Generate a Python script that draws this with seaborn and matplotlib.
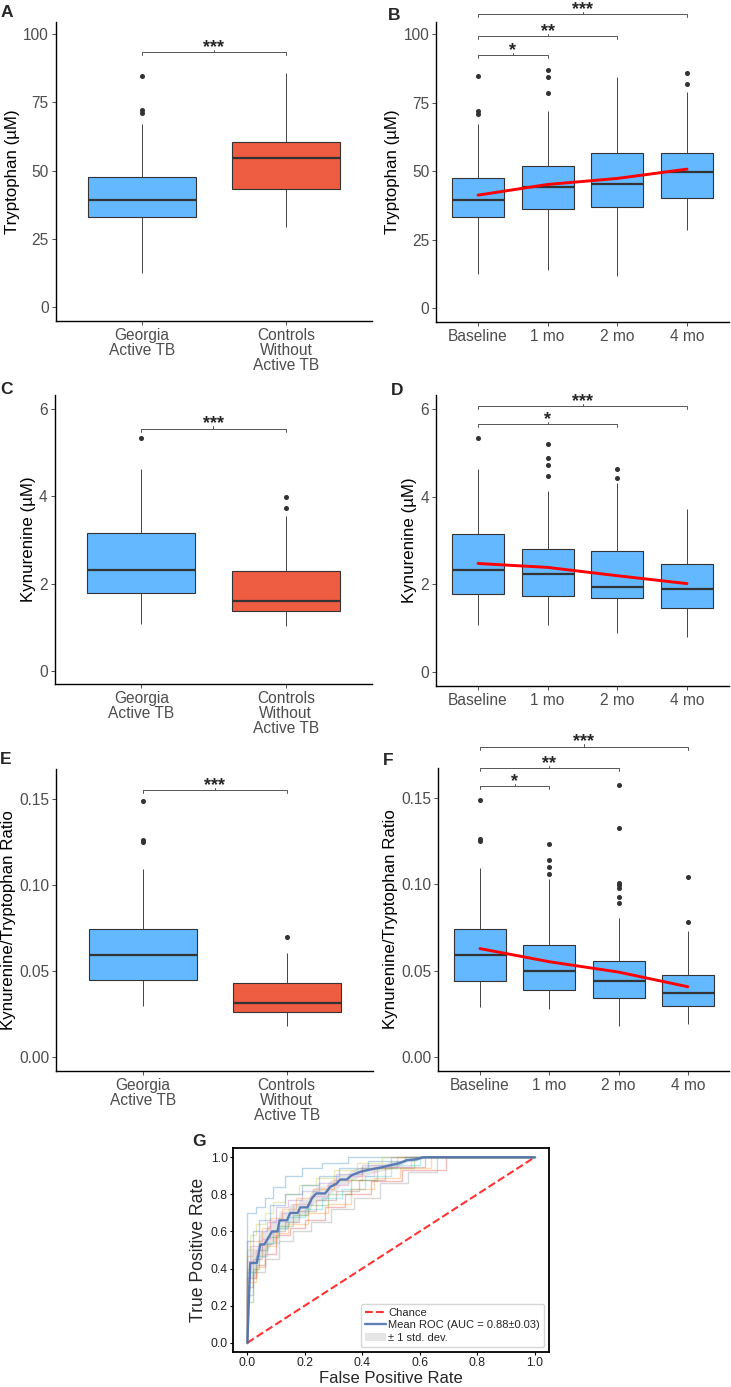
import numpy as np
import pandas as pd
import matplotlib
matplotlib.use("Agg")
import matplotlib.pyplot as plt
import seaborn as sns

W, H = 731, 1387
BLUE = "#63B8FF"
RED = "#EE5C42"
EDGE = "#333333"

# ---- TB patients vs controls (panels A, C, E)
groups = ["Georgia\nActive TB", "Controls\nWithout\nActive TB"]
# per box: whisker low, q1, median, q3, whisker high
trp_group_stats = [[12.6, 33.1, 39.2, 47.5, 67.0], [29.2, 43.3, 54.5, 60.6, 85.8]]
trp_group_out = [[71.0, 72.0, 84.7], []]
kyn_group_stats = [[1.07, 1.78, 2.32, 3.15, 4.62], [1.04, 1.38, 1.59, 2.29, 3.55]]
kyn_group_out = [[5.34], [3.74, 3.99]]
ratio_group_stats = [[0.0298, 0.0446, 0.0595, 0.0744, 0.1093],
                     [0.0182, 0.0260, 0.0316, 0.0428, 0.0607]]
ratio_group_out = [[0.1252, 0.1262, 0.1488], [0.0695]]

# ---- treatment time course (panels B, D, F)
timepoints = ["Baseline", "1 mo", "2 mo", "4 mo"]
trp_time_stats = [[12.5, 33.1, 39.3, 47.6, 67.0], [13.9, 36.1, 44.0, 51.7, 72.0],
                  [11.7, 36.8, 45.3, 56.5, 84.2], [28.5, 40.0, 49.7, 56.5, 79.0]]
trp_time_out = [[71.0, 72.0, 84.7], [78.6, 84.4, 86.9], [], [81.6, 85.7]]
trp_time_mean = [41.2, 45.1, 47.3, 50.7]
kyn_time_stats = [[1.06, 1.77, 2.32, 3.14, 4.62], [1.06, 1.72, 2.22, 2.79, 4.12],
                  [0.87, 1.68, 1.93, 2.75, 4.30], [0.78, 1.46, 1.88, 2.45, 3.72]]
kyn_time_out = [[5.34], [4.46, 4.73, 4.87, 5.21], [4.42, 4.64], []]
kyn_time_mean = [2.47, 2.38, 2.19, 2.01]
ratio_time_stats = [[0.0292, 0.0440, 0.0593, 0.0742, 0.1093],
                    [0.0279, 0.0386, 0.0496, 0.0651, 0.1030],
                    [0.0180, 0.0339, 0.0438, 0.0556, 0.0806],
                    [0.0192, 0.0297, 0.0370, 0.0473, 0.0729]]
ratio_time_out = [[0.1252, 0.1262, 0.1488], [0.1058, 0.1103, 0.1144, 0.1231],
                  [0.0894, 0.0926, 0.0977, 0.0996, 0.1010, 0.1324, 0.1577],
                  [0.0781, 0.1042]]
ratio_time_mean = [0.0628, 0.0552, 0.0492, 0.0407]

# ---- ROC (panel G)
mean_fpr = [0.0, 0.010, 0.033, 0.045, 0.059, 0.086, 0.105, 0.112, 0.138, 0.149,
            0.175, 0.184, 0.209, 0.225, 0.240, 0.271, 0.288, 0.311, 0.323, 0.346,
            0.363, 0.392, 0.427, 0.462, 0.497, 0.531, 0.555, 0.589, 0.612, 1.0]
mean_tpr = [0.0, 0.43, 0.43, 0.53, 0.53, 0.60, 0.60, 0.66, 0.66, 0.70,
            0.70, 0.73, 0.73, 0.78, 0.805, 0.805, 0.84, 0.858, 0.88, 0.88,
            0.903, 0.921, 0.934, 0.944, 0.957, 0.969, 0.984, 0.989, 1.0, 1.0]
tpr_std = [0.0, 0.08, 0.08, 0.07, 0.07, 0.06, 0.06, 0.05, 0.05, 0.05,
           0.05, 0.045, 0.045, 0.04, 0.04, 0.04, 0.035, 0.035, 0.03, 0.03,
           0.03, 0.025, 0.025, 0.02, 0.02, 0.015, 0.01, 0.01, 0.0, 0.0]
fold_fpr = [
    [0, 0, 0.03, 0.06, 0.09, 0.13, 0.19, 0.26, 0.35, 1.0],
    [0, 0, 0.02, 0.05, 0.08, 0.12, 0.17, 0.23, 0.30, 0.40, 0.52, 1.0],
    [0, 0, 0.02, 0.04, 0.07, 0.11, 0.16, 0.21, 0.28, 0.36, 0.45, 0.58, 1.0],
    [0, 0, 0.03, 0.06, 0.10, 0.15, 0.20, 0.27, 0.34, 0.43, 0.54, 0.69, 1.0],
    [0, 0, 0.01, 0.04, 0.07, 0.10, 0.14, 0.19, 0.25, 0.31, 0.40, 0.50, 1.0],
    [0, 0, 0.02, 0.05, 0.09, 0.13, 0.18, 0.24, 0.31, 0.39, 0.48, 0.62, 1.0],
    [0, 0, 0.03, 0.05, 0.08, 0.12, 0.16, 0.22, 0.28, 0.35, 0.44, 0.57, 1.0],
    [0, 0, 0.02, 0.06, 0.11, 0.16, 0.22, 0.29, 0.37, 0.46, 0.56, 0.66, 1.0],
    [0, 0, 0.01, 0.03, 0.06, 0.09, 0.13, 0.18, 0.24, 0.30, 0.38, 0.47, 1.0],
    [0, 0, 0.03, 0.07, 0.11, 0.14, 0.20, 0.26, 0.33, 0.41, 0.50, 0.60, 1.0],
    [0, 0, 0.02, 0.04, 0.08, 0.13, 0.19, 0.25, 0.32, 0.42, 0.55, 1.0],
    [0, 0, 0.03, 0.06, 0.10, 0.14, 0.21, 0.28, 0.36, 0.44, 0.53, 0.64, 1.0],
]
fold_tpr = [
    [0, 0.70, 0.73, 0.78, 0.84, 0.90, 0.94, 0.97, 1.0, 1.0],
    [0, 0.47, 0.55, 0.62, 0.67, 0.72, 0.78, 0.83, 0.88, 0.94, 1.0, 1.0],
    [0, 0.22, 0.40, 0.50, 0.57, 0.63, 0.69, 0.74, 0.80, 0.88, 0.94, 1.0, 1.0],
    [0, 0.35, 0.42, 0.48, 0.58, 0.62, 0.66, 0.73, 0.80, 0.87, 0.93, 1.0, 1.0],
    [0, 0.40, 0.52, 0.60, 0.65, 0.73, 0.77, 0.82, 0.86, 0.91, 0.96, 1.0, 1.0],
    [0, 0.30, 0.45, 0.53, 0.60, 0.65, 0.71, 0.77, 0.82, 0.88, 0.95, 1.0, 1.0],
    [0, 0.44, 0.50, 0.56, 0.66, 0.70, 0.75, 0.79, 0.85, 0.90, 0.95, 1.0, 1.0],
    [0, 0.26, 0.38, 0.45, 0.55, 0.60, 0.65, 0.72, 0.78, 0.86, 0.92, 1.0, 1.0],
    [0, 0.50, 0.58, 0.64, 0.70, 0.76, 0.80, 0.85, 0.89, 0.93, 0.97, 1.0, 1.0],
    [0, 0.38, 0.47, 0.54, 0.62, 0.68, 0.72, 0.78, 0.83, 0.90, 0.96, 1.0, 1.0],
    [0, 0.55, 0.60, 0.66, 0.74, 0.80, 0.85, 0.90, 0.94, 0.98, 1.0, 1.0],
    [0, 0.33, 0.41, 0.52, 0.59, 0.64, 0.70, 0.75, 0.83, 0.89, 0.94, 1.0, 1.0],
]

sns.set_style("ticks")
plt.rcParams["font.family"] = ["Liberation Sans", "DejaVu Sans"]

fig = plt.figure(figsize=(W / 100, H / 100), dpi=100)


def rect(l, r, t, b):
    return [l / W, 1 - b / H, (r - l) / W, (b - t) / H]


def add_bracket(ax, x1, x2, y, label):
    lo, hi = ax.get_ylim()
    d = (hi - lo) / (ax.get_position().height * H) * 3.0
    xm = (x1 + x2) / 2
    kw = dict(color="#555555", lw=0.7, clip_on=False)
    ax.plot([x1, x1, x2, x2], [y - d, y, y, y - d], **kw)
    ax.plot([xm, xm], [y, y + d * 0.8], **kw)
    ax.annotate(label, (xm, y), xytext=(0, 0.2), textcoords="offset points",
                ha="center", va="baseline", fontsize=13, fontweight="bold",
                annotation_clip=False)


def box_panel(pos, cats, stats, outs, colors, ylim, yticks, ylabel,
              brackets, means=None, fmt="{:g}"):
    ax = fig.add_axes(rect(*pos))
    rows = []
    for cat, st, out in zip(cats, stats, outs):
        lo, q1, med, q3, hi = st
        vals = [lo] + [q1] * 20 + [med] * 20 + [q3] * 20 + [hi] + list(out)
        rows += [(cat, v) for v in vals]
    df = pd.DataFrame(rows, columns=["group", "value"])
    sns.boxplot(data=df, x="group", y="value", hue="group", order=cats,
                hue_order=cats, palette=colors, legend=False, saturation=1,
                width=0.75, linewidth=0.8, linecolor=EDGE, showcaps=False,
                medianprops={"linewidth": 1.6, "color": EDGE},
                whiskerprops={"linewidth": 0.7, "color": "#444444"},
                flierprops={"marker": "o", "markerfacecolor": EDGE,
                            "markeredgecolor": EDGE, "markersize": 2.6},
                ax=ax)
    if means is not None:
        sns.lineplot(x=np.arange(len(cats)), y=means, color="#FF0000", lw=2.1,
                     ax=ax, zorder=5)
    ax.set_xlim(-0.6, len(cats) - 0.4)
    ax.set_ylim(*ylim)
    ax.set_yticks(yticks, [fmt.format(v) for v in yticks])
    ax.set_xticks(range(len(cats)), cats)
    for t in ax.get_xticklabels():
        t.set_linespacing(1.0)
    ax.set_xlabel("")
    ax.set_ylabel(ylabel, fontsize=12.2, color="black", labelpad=2.5)
    sns.despine(ax=ax)
    for s in ["left", "bottom"]:
        ax.spines[s].set_linewidth(1.0)
        ax.spines[s].set_color("black")
    ax.tick_params(length=2.75, width=0.6, color=EDGE, labelcolor="#4D4D4D",
                   labelsize=11.2, pad=2.2)
    for x1, x2, y, lab in brackets:
        add_bracket(ax, x1, x2, y, lab)
    return ax


pair_cols = [BLUE, RED]
time_cols = [BLUE] * 4

box_panel((55.6, 372.4, 22, 321), groups, trp_group_stats, trp_group_out, pair_cols,
          (-5.1, 104.4), [0, 25, 50, 75, 100], "Tryptophan (µM)",
          [(0, 1, 93.4, "***")])
box_panel((436.2, 728.8, 22, 322), timepoints, trp_time_stats, trp_time_out, time_cols,
          (-5.1, 104.4), [0, 25, 50, 75, 100], "Tryptophan (µM)",
          [(0, 1, 92.3, "*"), (0, 2, 99.3, "**"), (0, 3, 107.3, "***")],
          means=trp_time_mean)
box_panel((54.6, 372.4, 395, 684), groups, kyn_group_stats, kyn_group_out, pair_cols,
          (-0.3, 6.32), [0, 2, 4, 6], "Kynurenine (µM)",
          [(0, 1, 5.55, "***")])
box_panel((436.2, 728.8, 395, 686), timepoints, kyn_time_stats, kyn_time_out, time_cols,
          (-0.33, 6.32), [0, 2, 4, 6], "Kynurenine (µM)",
          [(0, 2, 5.65, "*"), (0, 3, 6.06, "***")], means=kyn_time_mean)
box_panel((56.4, 373, 769, 1071), groups, ratio_group_stats, ratio_group_out, pair_cols,
          (-0.0081, 0.1674), [0, 0.05, 0.10, 0.15], "Kynurenine/Tryptophan Ratio",
          [(0, 1, 0.155, "***")], fmt="{:.2f}")
box_panel((438.4, 729.4, 768, 1071), timepoints, ratio_time_stats, ratio_time_out, time_cols,
          (-0.0081, 0.1674), [0, 0.05, 0.10, 0.15], "Kynurenine/Tryptophan Ratio",
          [(0, 1, 0.157, "*"), (0, 2, 0.1674, "**"), (0, 3, 0.1797, "***")],
          means=ratio_time_mean, fmt="{:.2f}")

# ---- panel G: ROC
axg = fig.add_axes(rect(233, 549, 1148, 1352))
fold_cols = sns.color_palette("tab10", len(fold_fpr))
for fx, fy, c in zip(fold_fpr, fold_tpr, fold_cols):
    sns.lineplot(x=fx, y=fy, estimator=None, sort=False, drawstyle="steps-post",
                 color=c, lw=1, alpha=0.3, ax=axg)
axg.plot([0, 1], [0, 1], ls="--", lw=1.5, color="r", alpha=0.8, label="Chance")
sns.lineplot(x=mean_fpr, y=mean_tpr, estimator=None, sort=False, color="#4C72B0",
             lw=1.7, alpha=0.9, label="Mean ROC (AUC = 0.88±0.03)", ax=axg)
upper = np.minimum(np.array(mean_tpr) + np.array(tpr_std), 1)
lower = np.maximum(np.array(mean_tpr) - np.array(tpr_std), 0)
axg.fill_between(mean_fpr, lower, upper, color="grey", alpha=0.2, lw=0,
                 label="± 1 std. dev.")
axg.set_xlim(-0.05, 1.05)
axg.set_ylim(-0.05, 1.05)
ticks = np.arange(0, 1.01, 0.2)
axg.set_xticks(ticks, [f"{v:.1f}" for v in ticks])
axg.set_yticks(ticks, [f"{v:.1f}" for v in ticks])
axg.set_xlabel("False Positive Rate", fontsize=12, labelpad=1)
axg.set_ylabel("True Positive Rate", fontsize=12.7, labelpad=3)
for s in axg.spines.values():
    s.set_linewidth(1.3)
    s.set_color("black")
axg.tick_params(length=2.5, width=0.8, color="black", labelcolor="#222222",
                labelsize=8.8, pad=1.2)
axg.legend(loc="lower right", fontsize=8, handlelength=1.9, borderpad=0.35,
           borderaxespad=0.45, labelspacing=0.25, handletextpad=0.2)

# ---- panel letters
for lab, x, y in [("A", 1, 5), ("B", 388, 8), ("C", 0, 382), ("D", 391, 383),
                  ("E", 0, 752), ("F", 383, 753), ("G", 192, 1134)]:
    fig.text(x / W, 1 - y / H, lab, fontsize=12.5, fontweight="bold",
             ha="left", va="top")

fig.savefig("out.png", dpi=100)
